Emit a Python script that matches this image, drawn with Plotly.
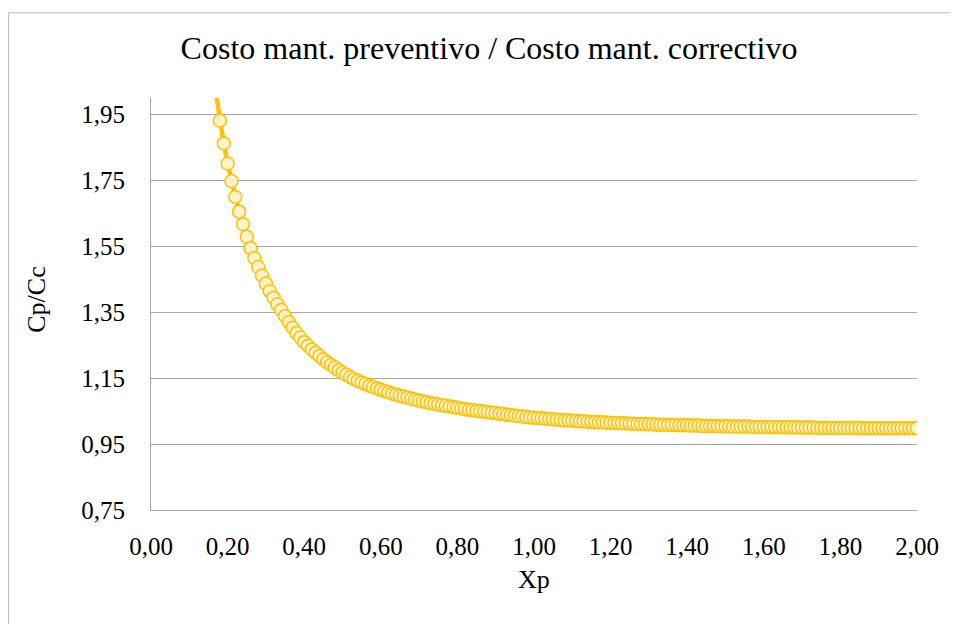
import plotly.graph_objects as go

# Data
xp = [
    0.17, 0.18, 0.19,
    0.20, 0.21, 0.22, 0.23, 0.24, 0.25, 0.26, 0.27, 0.28, 0.29,
    0.30, 0.31, 0.32, 0.33, 0.34, 0.35, 0.36, 0.37, 0.38, 0.39,
    0.40, 0.41, 0.42, 0.43, 0.44, 0.45, 0.46, 0.47, 0.48, 0.49,
    0.50, 0.51, 0.52, 0.53, 0.54, 0.55, 0.56, 0.57, 0.58, 0.59,
    0.60, 0.61, 0.62, 0.63, 0.64, 0.65, 0.66, 0.67, 0.68, 0.69,
    0.70, 0.71, 0.72, 0.73, 0.74, 0.75, 0.76, 0.77, 0.78, 0.79,
    0.80, 0.81, 0.82, 0.83, 0.84, 0.85, 0.86, 0.87, 0.88, 0.89,
    0.90, 0.91, 0.92, 0.93, 0.94, 0.95, 0.96, 0.97, 0.98, 0.99,
    1.00, 1.01, 1.02, 1.03, 1.04, 1.05, 1.06, 1.07, 1.08, 1.09,
    1.10, 1.11, 1.12, 1.13, 1.14, 1.15, 1.16, 1.17, 1.18, 1.19,
    1.20, 1.21, 1.22, 1.23, 1.24, 1.25, 1.26, 1.27, 1.28, 1.29,
    1.30, 1.31, 1.32, 1.33, 1.34, 1.35, 1.36, 1.37, 1.38, 1.39,
    1.40, 1.41, 1.42, 1.43, 1.44, 1.45, 1.46, 1.47, 1.48, 1.49,
    1.50, 1.51, 1.52, 1.53, 1.54, 1.55, 1.56, 1.57, 1.58, 1.59,
    1.60, 1.61, 1.62, 1.63, 1.64, 1.65, 1.66, 1.67, 1.68, 1.69,
    1.70, 1.71, 1.72, 1.73, 1.74, 1.75, 1.76, 1.77, 1.78, 1.79,
    1.80, 1.81, 1.82, 1.83, 1.84, 1.85, 1.86, 1.87, 1.88, 1.89,
    1.90, 1.91, 1.92, 1.93, 1.94, 1.95, 1.96, 1.97, 1.98, 1.99,
    2.00,
]

cp_cc = [
    2.012, 1.931, 1.862,
    1.801, 1.748, 1.700, 1.655, 1.617, 1.579, 1.544, 1.514, 1.487, 1.461,
    1.437, 1.414, 1.394, 1.374, 1.357, 1.338, 1.320, 1.303, 1.287, 1.273,
    1.259, 1.248, 1.237, 1.227, 1.217, 1.207, 1.198, 1.190, 1.182, 1.174,
    1.167, 1.160, 1.153, 1.147, 1.142, 1.137, 1.132, 1.127, 1.123, 1.119,
    1.115, 1.111, 1.107, 1.103, 1.100, 1.097, 1.094, 1.091, 1.088, 1.085,
    1.082, 1.079, 1.077, 1.074, 1.072, 1.070, 1.068, 1.066, 1.064, 1.062,
    1.060, 1.058, 1.056, 1.054, 1.053, 1.051, 1.050, 1.048, 1.047, 1.045,
    1.044, 1.042, 1.041, 1.039, 1.038, 1.036, 1.035, 1.034, 1.032, 1.031,
    1.030, 1.029, 1.028, 1.027, 1.026, 1.025, 1.024, 1.023, 1.022, 1.022,
    1.021, 1.020, 1.019, 1.019, 1.018, 1.017, 1.017, 1.016, 1.016, 1.015,
    1.015, 1.014, 1.014, 1.013, 1.013, 1.012, 1.012, 1.011, 1.011, 1.011,
    1.010, 1.010, 1.009, 1.009, 1.009, 1.008, 1.008, 1.008, 1.007, 1.007,
    1.007, 1.006, 1.006, 1.006, 1.005, 1.005, 1.005, 1.005, 1.004, 1.004,
    1.004, 1.004, 1.003, 1.003, 1.003, 1.003, 1.003, 1.002, 1.002, 1.002,
    1.002, 1.002, 1.002, 1.001, 1.001, 1.001, 1.001, 1.001, 1.001, 1.000,
    1.000, 1.000, 1.000, 1.000, 0.999, 0.999, 0.999, 0.999, 0.999, 0.999,
    0.999, 0.999, 0.999, 0.999, 0.999, 0.999, 0.998, 0.998, 0.998, 0.998,
    0.998, 0.998, 0.998, 0.998, 0.998, 0.998, 0.998, 0.998, 0.998, 0.998,
    0.998,
]
assert len(xp) == len(cp_cc)

title_text = "Costo mant. preventivo / Costo mant. correctivo"
x_title = "Xp"
y_title = "Cp/Cc"
x_range = [0.0, 2.0]
y_range = [0.75, 2.0]

# Excel hides markers whose value lies outside the axis range
vis = [(x, y) for x, y in zip(xp, cp_cc) if y_range[0] <= y <= y_range[1]]

FONT = "Liberation Serif, Times New Roman, Tinos, serif"
GRID = "#A6A6A6"
BORDER = "#BFBFBF"

# the page body adds an 8px offset, so the figure is 950x616
W, H = 950, 616
fig = go.Figure()
fig.add_trace(go.Scatter(
    x=xp, y=cp_cc, mode="lines",
    line=dict(color="#FFC000", width=4.5),
    hoverinfo="skip",
))
fig.add_trace(go.Scatter(
    x=[p[0] for p in vis], y=[p[1] for p in vis], mode="markers",
    marker=dict(size=13, color="#FFF2CC", line=dict(color="#FFC000", width=1.5)),
))

fig.update_layout(
    width=W, height=H, autosize=False,
    margin=dict(l=143, r=41, t=90, b=114),
    plot_bgcolor="white", paper_bgcolor="white",
    separators=",.",
    showlegend=False,
    font=dict(family=FONT, color="#000000"),
    title=dict(text=title_text, x=(489 - 8) / W, xref="container", xanchor="center",
               y=1 - (48 - 8) / H, yref="container", yanchor="middle",
               font=dict(family=FONT, size=32, color="#000000")),
    xaxis=dict(range=x_range, tick0=0, dtick=0.2, tickformat=".2f",
               showgrid=False, zeroline=False, showline=True,
               linecolor=GRID, linewidth=1, ticks="",
               ticklabelstandoff=14,
               tickfont=dict(family=FONT, size=25, color="#000000")),
    yaxis=dict(range=y_range, tick0=0.75, dtick=0.2, tickformat=".2f",
               showgrid=True, gridcolor=GRID, gridwidth=1,
               zeroline=False, showline=True, linecolor=GRID, linewidth=1,
               ticks="", ticklabelstandoff=20,
               tickfont=dict(family=FONT, size=25, color="#000000")),
    annotations=[
        dict(text=x_title, xref="paper", yref="paper", x=0.5, y=-0.169,
             xanchor="center", yanchor="middle", showarrow=False,
             font=dict(family=FONT, size=26, color="#000000")),
        dict(text=y_title, xref="paper", yref="paper", x=-0.149, y=0.51,
             xanchor="center", yanchor="middle", showarrow=False, textangle=-90,
             font=dict(family=FONT, size=26, color="#000000")),
    ],
    shapes=[
        # chart-area frame: only its left and top edges fall inside the window
        dict(type="line", xref="paper", yref="paper",
             x0=-0.186, y0=-0.5, x1=-0.186, y1=1.207,
             line=dict(color=BORDER, width=1), layer="below"),
        dict(type="line", xref="paper", yref="paper",
             x0=-0.186, y0=1.207, x1=1.3, y1=1.207,
             line=dict(color=BORDER, width=1), layer="below"),
    ],
)

fig.write_html("out.html")
